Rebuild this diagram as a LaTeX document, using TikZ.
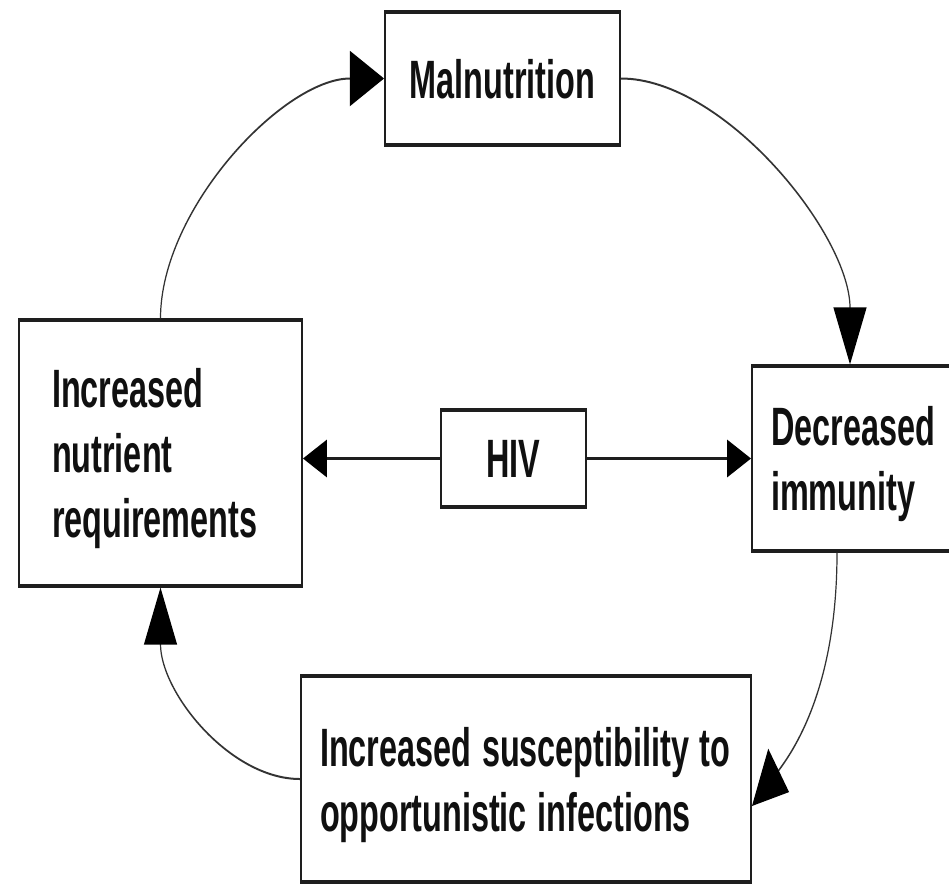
\documentclass[tikz,border=0pt]{standalone}
\usepackage{fontspec}
\setmainfont{Liberation Sans}
\usetikzlibrary{arrows.meta,calc}
\definecolor{ink}{HTML}{101010}
\definecolor{frame}{HTML}{1E1E1E}
\definecolor{wire}{HTML}{333333}

\begin{document}
\begin{tikzpicture}[x=1pt,y=-1pt]
\path[use as bounding box, fill=white] (0,0) rectangle (949,884);
% the whole drawing is set in a narrow type: everything is squeezed horizontally
\begin{scope}[transform canvas={xscale=0.6}, x=1.666667pt, y=-1pt,
  cbox/.style={draw=frame, line width=3.2pt, rectangle, inner ysep=0pt, text=ink,
    font=\fontsize{54pt}{65pt}\selectfont\bfseries},
  loopwire/.style={draw=wire, line width=2pt, -{Triangle[length=57pt,width=55pt,color=black]}},
  hivwire/.style={draw=frame, line width=3.4pt, -{Triangle[length=40pt,width=37pt,color=black]}}]

  \node[cbox, minimum width=391.67pt, minimum height=133pt, text depth=0pt]
    (mal) at (502.5,78.5) {Malnutrition};

  \node[cbox, minimum width=471.67pt, minimum height=266pt, inner xsep=55pt,
    text width=361.67pt, align=left, text depth=130pt]
    (need) at (160.5,453) {Increased\\nutrient\\requirements};

  \node[cbox, minimum width=340pt, minimum height=185pt, inner xsep=31.67pt,
    text width=276.67pt, align=left, text depth=65pt]
    (imm) at (854,458.5) {Decreased\\immunity};

  \node[cbox, minimum width=750pt, minimum height=206pt, inner xsep=31.67pt,
    text width=686.67pt, align=left, text depth=65pt]
    (sus) at (526,779) {Increased susceptibility to\\opportunistic infections};

  \node[cbox, minimum width=241.67pt, minimum height=97pt, text depth=0pt]
    (hiv) at (513.5,458.5) {HIV};

  % the vicious cycle
  \draw[loopwire] (need.north) .. controls +(0,-110) and +(-100,0) .. (mal.west);
  \draw[loopwire] (mal.east) .. controls +(103,0) and +(0,-130) .. ($(imm.north)+(-4,0)$);
  \draw[loopwire] ($(imm.south)+(-17,0)$) .. controls +(0,130) and +(45,-60) .. ($(sus.east)+(0,27)$);
  \draw[loopwire] (sus.west) .. controls +(-70,0) and +(0,105) .. (need.south);

  % HIV acts on both sides
  \draw[hivwire] (hiv.west) -- (hiv.west -| need.east);
  \draw[hivwire] (hiv.east) -- (hiv.east -| imm.west);
\end{scope}
\end{tikzpicture}
\end{document}
